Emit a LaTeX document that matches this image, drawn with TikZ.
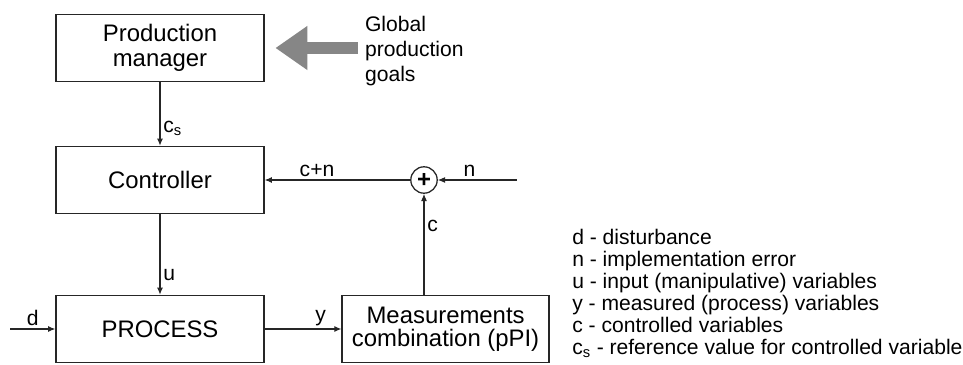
\documentclass[tikz,border=0pt]{standalone}
\usepackage{fontspec}
\setmainfont{Liberation Sans}
\usetikzlibrary{arrows.meta}

\begin{document}
\begin{tikzpicture}[
    box/.style={draw=black!85,line width=0.9pt,minimum width=5.2cm,minimum height=1.68cm,
                align=center,font=\fontsize{17}{19}\selectfont},
    sig/.style={draw=black!85,line width=0.8pt,-{Latex[length=1.8mm,width=1.5mm]}},
    lbl/.style={font=\fontsize{15}{17}\selectfont,inner sep=2pt}
  ]
            \useasboundingbox (0,0) rectangle (24.075,9.125);

            \node[box] (pm)   at ( 4.00, 7.925) {Production\\[-1pt]manager};
            \node[box] (ctrl) at ( 4.00, 4.625) {Controller};
            \node[box] (proc) at ( 4.00, 0.900) {PROCESS};
            \node[box,minimum width=5.175cm,font=\fontsize{17}{16.4}\selectfont] (meas) at (11.14, 0.900) {Measurements\\combination (pPI)};
            \node[draw=black!85,line width=0.9pt,circle,minimum size=0.66cm,inner sep=0pt,
                  font=\fontsize{17}{17}\selectfont\bfseries] (sum) at (10.60, 4.625) {+};
            \node[align=left,anchor=west,inner sep=0pt,font=\fontsize{15}{17.8}\selectfont] (goals) at (9.12, 7.85) {Global\\production\\goals};
            \coordinate (din) at ( 0.25, 0.900);
            \coordinate (nin) at (12.92, 4.625);

            % big grey arrow into the manager
            \draw[gray!95,line width=0.3cm,-{Triangle[length=0.8cm,width=1.05cm]},
                  shorten <=0.18cm,shorten >=0.27cm] (goals.west |- pm.east) to (pm.east);

            \draw[sig] (pm)   to node[lbl,right,pos=0.72] {c\textsubscript{s}} (ctrl);
            \draw[sig] (ctrl) to node[lbl,right,pos=0.76] {u} (proc);
            \draw[sig] (din)  to node[lbl,above] {d} (proc);
            \draw[sig] (proc) to node[lbl,above,pos=0.73] {y} (meas);
            \draw[sig] (sum |- meas.north) to node[lbl,right,pos=0.68] {c} (sum);
            \draw[sig] (nin)  to node[lbl,above,pos=0.6] {n} (sum);
            \draw[sig] (sum)  to node[lbl,above,pos=0.64] {c+n} (ctrl);

            \node[align=left,anchor=west,inner sep=0pt,font=\fontsize{15}{15.65}\selectfont] (legend) at (14.30, 1.80) {%
              d - disturbance\\
              n - implementation error\\
              u - input (manipulative) variables\\
              y - measured (process) variables\\
              c - controlled variables\\
              c\textsubscript{s} - reference value for controlled variable};
          \end{tikzpicture}
\end{document}
